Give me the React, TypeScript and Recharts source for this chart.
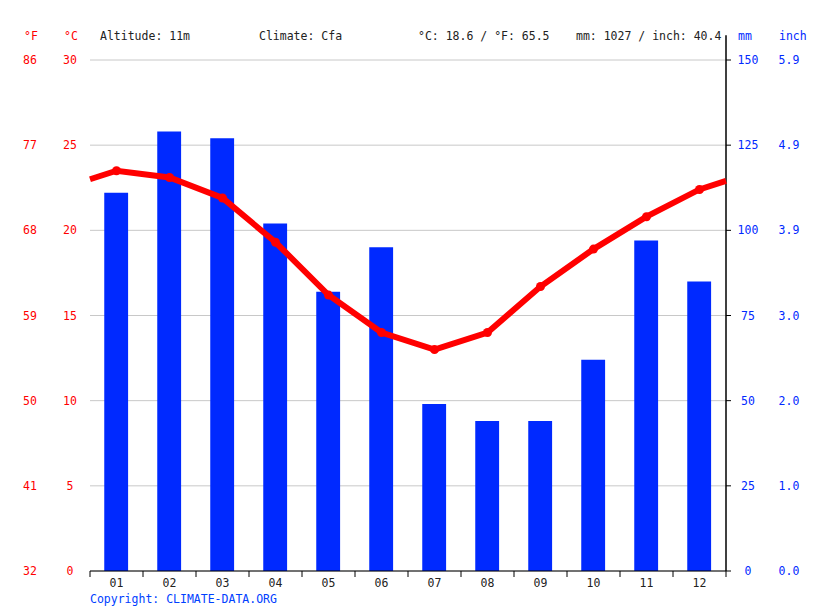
import { ComposedChart, Bar, Line, XAxis, YAxis, CartesianGrid, ReferenceLine } from "recharts";

// month positions; 0.5 and 12.5 are the plot edges where the temperature line wraps
const months = [0.5, 1, 2, 3, 4, 5, 6, 7, 8, 9, 10, 11, 12, 12.5];
const precipMm = [null, 111, 129, 127, 102, 82, 95, 49, 44, 44, 62, 97, 85, null];
const tempC = [23.0, 23.5, 23.1, 21.9, 19.3, 16.2, 14.0, 13.0, 14.0, 16.7, 18.9, 20.8, 22.4, 22.9];

const tempTicks = [0, 5, 10, 15, 20, 25, 30];
const mmTicks = [0, 25, 50, 75, 100, 125, 150];
const xTicks = [0.5, 1, 1.5, 2, 2.5, 3, 3.5, 4, 4.5, 5, 5.5, 6, 6.5, 7, 7.5, 8, 8.5, 9, 9.5, 10, 10.5, 11, 11.5, 12, 12.5];

const RED = "#ff0000";
const BLUE = "#0029ff";
const FONT = "'DejaVu Sans Mono', monospace";

const data = months.map((m, i) => ({ month: m, precip: precipMm[i], temp: tempC[i] }));

function TempTick(props: any) {
  const { y, payload } = props;
  const c = payload.value as number;
  const f = Math.round(c * 1.8 + 32);
  return (
    <g fontFamily={FONT} fontSize={11.5} fill={RED}>
      <text x={30} y={y} dy={4} textAnchor="middle">{f}</text>
      <text x={70} y={y} dy={4} textAnchor="middle">{c}</text>
    </g>
  );
}

function MmTick(props: any) {
  const { y, payload } = props;
  const mm = payload.value as number;
  return (
    <g fontFamily={FONT} fontSize={11.5} fill={BLUE}>
      <text x={748} y={y} dy={4} textAnchor="middle">{mm}</text>
      <text x={789} y={y} dy={4} textAnchor="middle">{(mm / 25.4).toFixed(1)}</text>
    </g>
  );
}

function MonthTick(props: any) {
  const { x, y, payload } = props;
  const v = payload.value as number;
  if (!Number.isInteger(v)) {
    return <line x1={x} x2={x} y1={y - 8} y2={y - 2} stroke="#000" strokeWidth={1} />;
  }
  return (
    <text x={x} y={y} dy={8} textAnchor="middle" fontFamily={FONT} fontSize={11.5} fill="#222">
      {String(v).padStart(2, "0")}
    </text>
  );
}

function TempDot(props: any) {
  const { cx, cy, payload, index } = props;
  if (!Number.isInteger(payload.month)) return <g key={`d${index}`} />;
  return <circle key={`d${index}`} cx={cx} cy={cy} r={4.5} fill={RED} />;
}

const headStyle: React.CSSProperties = {
  position: "absolute",
  top: 29,
  fontFamily: FONT,
  fontSize: 11.5,
  color: "#222",
  whiteSpace: "pre",
  lineHeight: "14px",
};

export default function App() {
  return (
    <div style={{ position: "absolute", left: 0, top: 0, width: 815, height: 611, background: "#fff" }}>
      <span style={{ ...headStyle, left: 24, color: RED }}>°F</span>
      <span style={{ ...headStyle, left: 64, color: RED }}>°C</span>
      <span style={{ ...headStyle, left: 100 }}>Altitude: 11m</span>
      <span style={{ ...headStyle, left: 259 }}>Climate: Cfa</span>
      <span style={{ ...headStyle, left: 418 }}>°C: 18.6 / °F: 65.5</span>
      <span style={{ ...headStyle, left: 576 }}>mm: 1027 / inch: 40.4</span>
      <span style={{ ...headStyle, left: 738, color: BLUE }}>mm</span>
      <span style={{ ...headStyle, left: 779, color: BLUE }}>inch</span>
      <span style={{ ...headStyle, top: 592, left: 90, color: "#0040ff" }}>Copyright: CLIMATE-DATA.ORG</span>
      <ComposedChart
        width={815}
        height={611}
        data={data}
        margin={{ top: 60, right: 0, bottom: 0, left: 0 }}
      >
        <CartesianGrid yAxisId="t" vertical={false} stroke="#c8c8c8" />
        <XAxis
          dataKey="month"
          type="number"
          domain={[0.5, 12.5]}
          ticks={xTicks}
          interval={0}
          height={40}
          tickLine={false}
          axisLine={{ stroke: "#000" }}
          tick={<MonthTick />}
        />
        <YAxis
          yAxisId="t"
          orientation="left"
          width={90}
          domain={[0, 30]}
          ticks={tempTicks}
          axisLine={false}
          tickLine={false}
          tick={<TempTick />}
        />
        <YAxis
          yAxisId="p"
          orientation="right"
          width={89}
          domain={[0, 150]}
          ticks={mmTicks}
          axisLine={false}
          tickLine={{ stroke: "#000" }}
          tickSize={5}
          tick={<MmTick />}
        />
        <ReferenceLine
          yAxisId="p"
          segment={[{ x: 12.5, y: 0 }, { x: 12.5, y: 157.3 }]}
          stroke="#000"
          strokeWidth={1.5}
          ifOverflow="visible"
        />
        <Bar yAxisId="p" dataKey="precip" fill={BLUE} barSize={27} isAnimationActive={false} />
        <Line
          yAxisId="t"
          dataKey="temp"
          stroke={RED}
          strokeWidth={6}
          dot={TempDot}
          activeDot={false}
          type="linear"
          isAnimationActive={false}
        />
      </ComposedChart>
    </div>
  );
}
